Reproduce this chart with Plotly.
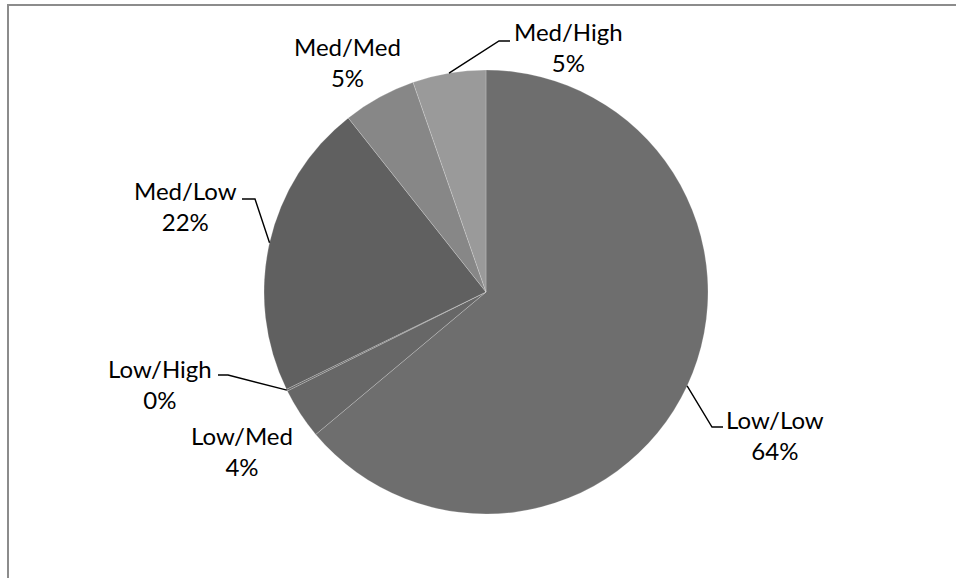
import math
import plotly.graph_objects as go

# Share of respondents by combined rating (first/second)
categories = ["Low/Low", "Low/Med", "Low/High", "Med/Low", "Med/Med", "Med/High"]
counts = [480, 28, 1, 162, 40, 40]
colors = ["#6e6e6e", "#676767", "#646464", "#606060", "#878787", "#9a9a9a"]

W, H = 956, 578
CX, CY, R = 486, 292, 222  # pie centre and radius in pixels


def px(x):
    return x / W


def py(y):
    return 1 - y / H


total = sum(counts)
shares = [c / total for c in counts]
labels = [f"{name}<br>{round(s * 100):.0f}%" for name, s in zip(categories, shares)]

fig = go.Figure(
    go.Pie(
        labels=categories,
        values=counts,
        sort=False,
        direction="clockwise",
        rotation=0,
        textinfo="none",
        hoverinfo="label+percent",
        marker=dict(colors=colors, line=dict(color="rgba(255,255,255,0.35)", width=0.6)),
        domain=dict(x=[px(CX - R), px(CX + R)], y=[py(CY + R), py(CY - R)]),
        showlegend=False,
    )
)

# Label placement (pixel centres of the two-line text blocks)
label_pos = {
    "Low/Low": (775, 435),
    "Low/Med": (242, 451),
    "Low/High": (160, 384),
    "Med/Low": (185, 206),
    "Med/Med": (347, 62),
    "Med/High": (568, 47),
}
# Leader line bends: (elbow, end of horizontal tick) next to the label
leaders = {
    "Low/Low": ((712, 427), (723, 427)),
    "Low/High": ((228, 375), (218, 375)),
    "Med/Low": ((255, 199), (242, 199)),
    "Med/High": ((499, 41), (510, 41)),
}

annotations = []
for name, text in zip(categories, labels):
    x, y = label_pos[name]
    annotations.append(
        dict(
            x=px(x), y=py(y), xref="paper", yref="paper",
            text=text, showarrow=False, xanchor="center", yanchor="middle",
            align="center",
            font=dict(family="Lato", size=24, color="#000000"),
        )
    )

shapes = []
cum = 0.0
for name, s in zip(categories, shares):
    mid = (cum + s / 2) * 2 * math.pi
    cum += s
    if name not in leaders:
        continue
    sx = CX + R * math.sin(mid)
    sy = CY - R * math.cos(mid)
    (ex, ey), (tx, ty) = leaders[name]
    path = f"M {px(sx)},{py(sy)} L {px(ex)},{py(ey)} L {px(tx)},{py(ty)}"
    shapes.append(dict(type="path", xref="paper", yref="paper", path=path,
                       line=dict(color="#000000", width=1.4)))

# Chart area border (runs off the right and bottom edges)
shapes.append(dict(type="rect", xref="paper", yref="paper",
                   x0=px(8), x1=1.2, y0=-0.2, y1=py(5),
                   line=dict(color="#8c8c8c", width=2), fillcolor="rgba(0,0,0,0)"))

fig.update_layout(
    width=W, height=H,
    margin=dict(l=0, r=0, t=0, b=0),
    paper_bgcolor="#ffffff",
    plot_bgcolor="#ffffff",
    annotations=annotations,
    shapes=shapes,
)

fig.write_html("out.html")
